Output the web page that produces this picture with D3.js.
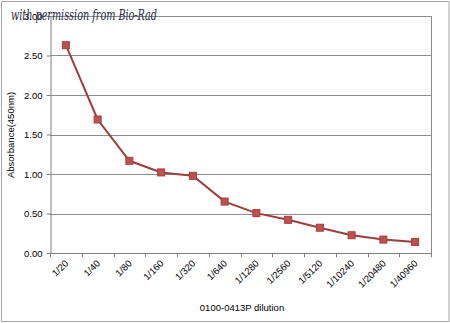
<!DOCTYPE html>
<html>
<head>
<meta charset="utf-8">
<script src="https://cdn.jsdelivr.net/npm/d3@7"></script>
<style>
  html, body { margin: 0; padding: 0; background: #fff; }
  svg { display: block; }
</style>
</head>
<body>
<svg id="chart" width="450" height="323"></svg>
<script>
// Dilution series and measured absorbance at 450 nm
const dilutions = ["1/20", "1/40", "1/80", "1/160", "1/320", "1/640", "1/1280",
                   "1/2560", "1/5120", "1/10240", "1/20480", "1/40960"];
const absorbance = [2.63, 1.69, 1.167, 1.02, 0.977, 0.651, 0.505, 0.42, 0.32, 0.225, 0.17, 0.14];
const yTicks = [0, 0.5, 1.0, 1.5, 2.0, 2.5, 3.0];

const svg = d3.select("#chart");
const W = 450, H = 323;
const plot = { left: 50, right: 431, top: 16, bottom: 253 };

// Outer chart frame
svg.append("rect")
  .attr("x", 1.5).attr("y", 1.5).attr("width", W - 2.5).attr("height", H - 3)
  .attr("fill", "#fff").attr("stroke", "#a6a6a6").attr("stroke-width", 1);

const x = d3.scaleBand().domain(dilutions).range([plot.left, plot.right]).padding(0);
const y = d3.scaleLinear().domain([0, 3]).range([plot.bottom, plot.top]);

// Horizontal gridlines
svg.append("g").selectAll("line")
  .data(yTicks.filter(t => t > 0))
  .join("line")
  .attr("x1", plot.left).attr("x2", plot.right)
  .attr("y1", d => Math.round(y(d)) + 0.5).attr("y2", d => Math.round(y(d)) + 0.5)
  .attr("stroke", "#8c8c8c").attr("stroke-width", 1);

// Right border of plot area
svg.append("line")
  .attr("x1", plot.right + 0.5).attr("x2", plot.right + 0.5)
  .attr("y1", plot.top).attr("y2", plot.bottom)
  .attr("stroke", "#8c8c8c");

// Y axis
const yAxis = svg.append("g")
  .attr("transform", `translate(${plot.left + 0.5},0)`)
  .call(d3.axisLeft(y).tickValues(yTicks).tickFormat(d3.format(".2f")).tickSize(4).tickSizeOuter(0));
yAxis.select(".domain").attr("stroke", "#808080");
yAxis.selectAll(".tick line").attr("stroke", "#808080");
yAxis.selectAll(".tick text")
  .attr("font-family", "Liberation Sans, Arial, sans-serif")
  .attr("font-size", 9.5).attr("fill", "#000").attr("x", -8);

// X axis with ticks at category boundaries
const boundaries = dilutions.map(d => x(d)).concat([plot.right]);
const xAxisG = svg.append("g");
xAxisG.append("line")
  .attr("x1", plot.left).attr("x2", plot.right + 1)
  .attr("y1", plot.bottom + 0.5).attr("y2", plot.bottom + 0.5)
  .attr("stroke", "#808080");
xAxisG.selectAll("line.tk")
  .data(boundaries)
  .join("line").attr("class", "tk")
  .attr("x1", d => Math.round(d) + 0.5).attr("x2", d => Math.round(d) + 0.5)
  .attr("y1", plot.bottom).attr("y2", plot.bottom + 4)
  .attr("stroke", "#808080");
xAxisG.selectAll("text")
  .data(dilutions)
  .join("text")
  .attr("transform", d => `translate(${x(d) + x.bandwidth() / 2 + 3},${plot.bottom + 11}) rotate(-45)`)
  .attr("text-anchor", "end")
  .attr("font-family", "Liberation Sans, Arial, sans-serif")
  .attr("font-size", 9.5)
  .attr("fill", "#000")
  .text(d => d);

// Axis titles
svg.append("text")
  .attr("transform", `translate(${14},${135}) rotate(-90)`)
  .attr("text-anchor", "middle")
  .attr("font-family", "Liberation Sans, Arial, sans-serif")
  .attr("font-size", 9.5)
  .text("Absorbance(450nm)");

svg.append("text")
  .attr("x", 242).attr("y", 311)
  .attr("text-anchor", "middle")
  .attr("font-family", "Liberation Sans, Arial, sans-serif")
  .attr("font-size", 9.5)
  .text("0100-0413P dilution");

// Data line
const lineGen = d3.line()
  .x((d, i) => x(dilutions[i]) + x.bandwidth() / 2)
  .y(d => y(d));
svg.append("path")
  .datum(absorbance)
  .attr("d", lineGen)
  .attr("fill", "none")
  .attr("stroke", "#9b3e3c")
  .attr("stroke-width", 2);

// Square markers
const ms = 7;
svg.append("g").selectAll("rect")
  .data(absorbance)
  .join("rect")
  .attr("x", (d, i) => x(dilutions[i]) + x.bandwidth() / 2 - ms / 2)
  .attr("y", d => y(d) - ms / 2)
  .attr("width", ms).attr("height", ms)
  .attr("fill", "#c0504d")
  .attr("stroke", "#a0413f")
  .attr("stroke-width", 1);

// Credit line
svg.append("text")
  .attr("x", 11).attr("y", 20)
  .attr("font-family", "DejaVu Serif, Liberation Serif, serif")
  .attr("font-style", "italic")
  .attr("font-size", 14)
  .attr("fill", "#1f2a44")
  .attr("textLength", 146)
  .attr("lengthAdjust", "spacingAndGlyphs")
  .text("with permission from Bio-Rad");
</script>
</body>
</html>
